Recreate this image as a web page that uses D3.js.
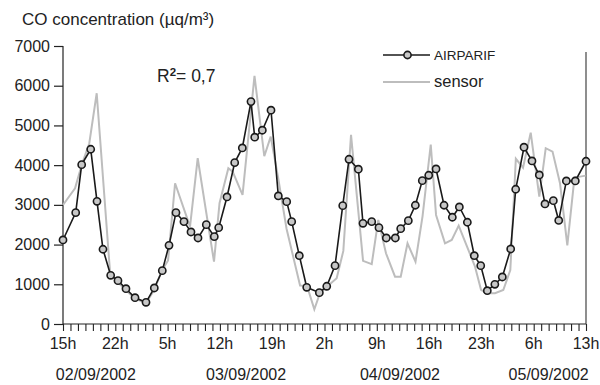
<!DOCTYPE html>
<html>
<head>
<meta charset="utf-8">
<script src="https://cdn.jsdelivr.net/npm/d3@7"></script>
<style>
  body { margin: 0; background: #fff; }
  svg { display: block; font-family: "Liberation Sans", Arial, Helvetica, sans-serif; }
</style>
</head>
<body>
<div id="chart"></div>
<script>
// hours counted from 15h on 02/09/2002
var airHours = [0, 1.70, 2.50, 3.71, 4.55, 5.35, 6.38, 7.36, 8.43, 9.64, 11.11, 12.22, 13.29, 14.19,
  15.12, 16.19, 17.13, 18.07, 19.18, 20.25, 20.84, 21.95, 22.98, 24.00, 25.16, 25.66, 26.68, 27.84,
  28.82, 29.94, 30.61, 31.63, 32.62, 34.31, 35.30, 36.41, 37.44, 38.28, 39.53, 40.15, 41.32, 42.29,
  43.27, 44.48, 45.20, 46.22, 47.16, 48.09, 48.95, 49.93, 51.00, 52.11, 53.05, 54.12, 55.05, 55.91,
  56.79, 57.80, 58.80, 59.92, 60.59, 61.70, 62.77, 63.75, 64.51, 65.63, 66.35, 67.37, 68.57, 70];
var airValues = [2116, 2804, 4013, 4400, 3090, 1882, 1226, 1091, 889, 662, 546, 907, 1343, 1982,
  2804, 2577, 2317, 2166, 2501, 2199, 2426, 3199, 4063, 4433, 5600, 4703, 4879, 5383,
  3224, 3081, 2577, 1720, 924, 789, 950, 1469, 2980, 4148, 3897, 2536, 2577, 2426,
  2166, 2166, 2401, 2602, 2990, 3610, 3745, 3904, 2990, 2688, 2947, 2562, 1720, 1469,
  839, 1000, 1184, 1889, 3393, 4451, 4106, 3753, 3023, 3106, 2607, 3602, 3602, 4098];

var sensorHours = [0, 1.61, 2.50, 3.52, 4.51, 6.29, 7.36, 8.43, 9.64, 11.11, 12.18, 13.25, 14.06,
  15.00, 17.00, 18.03, 20.21, 20.95, 22.13, 22.71, 24.03, 25.63, 26.94, 27.80, 28.78, 29.92,
  31.73, 32.66, 33.64, 34.40, 35.74, 36.63, 37.52, 38.55, 40.16, 41.32, 42.20, 43.23, 44.44,
  45.20, 46.11, 47.18, 48.12, 49.22, 49.93, 51.13, 52.03, 52.96, 54.08, 55.15, 55.95, 56.71,
  57.82, 58.93, 59.87, 60.61, 61.57, 62.60, 63.75, 64.61, 65.52, 66.52, 67.50, 68.46, 69.20, 69.96];
var sensorValues = [2997, 3418, 4000, 4551, 5811, 1317, 1050, 850, 640, 530, 850, 1350, 1600,
  3544, 2451, 4174, 1569, 3040, 3922, 3837, 3250, 6250, 4224, 4718, 3700, 2400,
  970, 960, 370, 781, 1010, 1151, 1840, 4761, 1590, 1508, 2620, 1781, 1191,
  1191, 2032, 1569, 2712, 4520, 2746, 2032, 2116, 2476, 1950, 1443, 860, 773,
  773, 856, 1360, 4160, 3935, 4819, 3207, 4426, 4341, 3544, 1980, 3690, 3711, 3736];

var yTicks = [0, 1000, 2000, 3000, 4000, 5000, 6000, 7000];
var hourLabels = ["15h", "22h", "5h", "12h", "19h", "2h", "9h", "16h", "23h", "6h", "13h"];
var dateLabels = ["02/09/2002", "03/09/2002", "04/09/2002", "05/09/2002"];
var dateLabelHours = [4.4, 24.5, 45.1, 65.0];

var width = 600, height = 385;

var svg = d3.select("#chart").append("svg")
  .attr("width", width)
  .attr("height", height);

var x = d3.scaleLinear().domain([0, 70]).range([63, 586]);
var y = d3.scaleLinear().domain([0, 7000]).range([324, 46]);

// y axis
var yAxis = svg.append("g")
  .attr("transform", "translate(" + x(0) + ",0)")
  .call(d3.axisLeft(y).tickValues(yTicks).tickSize(9).tickPadding(4).tickFormat(d3.format("d")));
yAxis.selectAll("text").attr("font-size", 16).attr("fill", "#222").style("font-family", "inherit");
yAxis.selectAll("line, path").attr("stroke", "#222").attr("stroke-width", 1.2);
yAxis.select("path").attr("d", "M0," + y(7000) + "V" + y(0));

// x axis, one tick per hour
var xAxis = svg.append("g")
  .attr("transform", "translate(0," + y(0) + ")")
  .call(d3.axisBottom(x).tickValues(d3.range(0, 71)).tickSize(7).tickFormat(""));
xAxis.selectAll("line, path").attr("stroke", "#222").attr("stroke-width", 1.1);
xAxis.select("path").attr("d", "M" + x(0) + ",0H" + x(70));

svg.append("g").selectAll("text")
  .data(hourLabels)
  .enter().append("text")
  .attr("x", function(d, i) { return x(i * 7); })
  .attr("y", 349)
  .attr("text-anchor", "middle")
  .attr("font-size", 16)
  .attr("fill", "#222")
  .text(function(d) { return d; });

svg.append("g").selectAll("text")
  .data(dateLabels)
  .enter().append("text")
  .attr("x", function(d, i) { return x(dateLabelHours[i]); })
  .attr("y", 380)
  .attr("text-anchor", "middle")
  .attr("font-size", 16)
  .attr("fill", "#222")
  .text(function(d) { return d; });

// right border
svg.append("line")
  .attr("x1", x(70)).attr("x2", x(70))
  .attr("y1", 52).attr("y2", y(0))
  .attr("stroke", "#444").attr("stroke-width", 1.2);

// title
svg.append("text")
  .attr("x", 22).attr("y", 25)
  .attr("font-size", 17)
  .attr("fill", "#222")
  .text("CO concentration (µq/m³)");

// R2
var r2 = svg.append("text")
  .attr("x", 157).attr("y", 82)
  .attr("font-size", 17.5)
  .attr("fill", "#222");
r2.append("tspan").text("R");
r2.append("tspan").attr("font-size", 11.5).attr("font-weight", "bold").attr("dy", -6).text("2");
r2.append("tspan").attr("dy", 6).text("= 0,7");

var line = d3.line()
  .x(function(d) { return x(d[0]); })
  .y(function(d) { return y(d[1]); });

var sensorData = sensorHours.map(function(h, i) { return [h, sensorValues[i]]; });
var airData = airHours.map(function(h, i) { return [h, airValues[i]]; });

svg.append("path")
  .datum(sensorData)
  .attr("d", line)
  .attr("fill", "none")
  .attr("stroke", "#bdbdbd")
  .attr("stroke-width", 2);

svg.append("path")
  .datum(airData)
  .attr("d", line)
  .attr("fill", "none")
  .attr("stroke", "#1a1a1a")
  .attr("stroke-width", 1.6);

svg.append("g").selectAll("circle")
  .data(airData)
  .enter().append("circle")
  .attr("cx", function(d) { return x(d[0]); })
  .attr("cy", function(d) { return y(d[1]); })
  .attr("r", 3.6)
  .attr("fill", "#c8c8c8")
  .attr("stroke", "#1a1a1a")
  .attr("stroke-width", 1.6);

// legend
var legend = svg.append("g");
legend.append("line")
  .attr("x1", 383).attr("x2", 430).attr("y1", 55).attr("y2", 55)
  .attr("stroke", "#1a1a1a").attr("stroke-width", 1.6);
legend.append("circle")
  .attr("cx", 407.5).attr("cy", 55).attr("r", 3.6)
  .attr("fill", "#c8c8c8").attr("stroke", "#1a1a1a").attr("stroke-width", 1.6);
legend.append("text")
  .attr("x", 434).attr("y", 60)
  .attr("font-size", 13.5).attr("fill", "#222")
  .text("AIRPARIF");
legend.append("line")
  .attr("x1", 383).attr("x2", 430).attr("y1", 82).attr("y2", 82)
  .attr("stroke", "#bdbdbd").attr("stroke-width", 2);
legend.append("text")
  .attr("x", 434).attr("y", 87)
  .attr("font-size", 16.5).attr("fill", "#222")
  .text("sensor");
</script>
</body>
</html>
